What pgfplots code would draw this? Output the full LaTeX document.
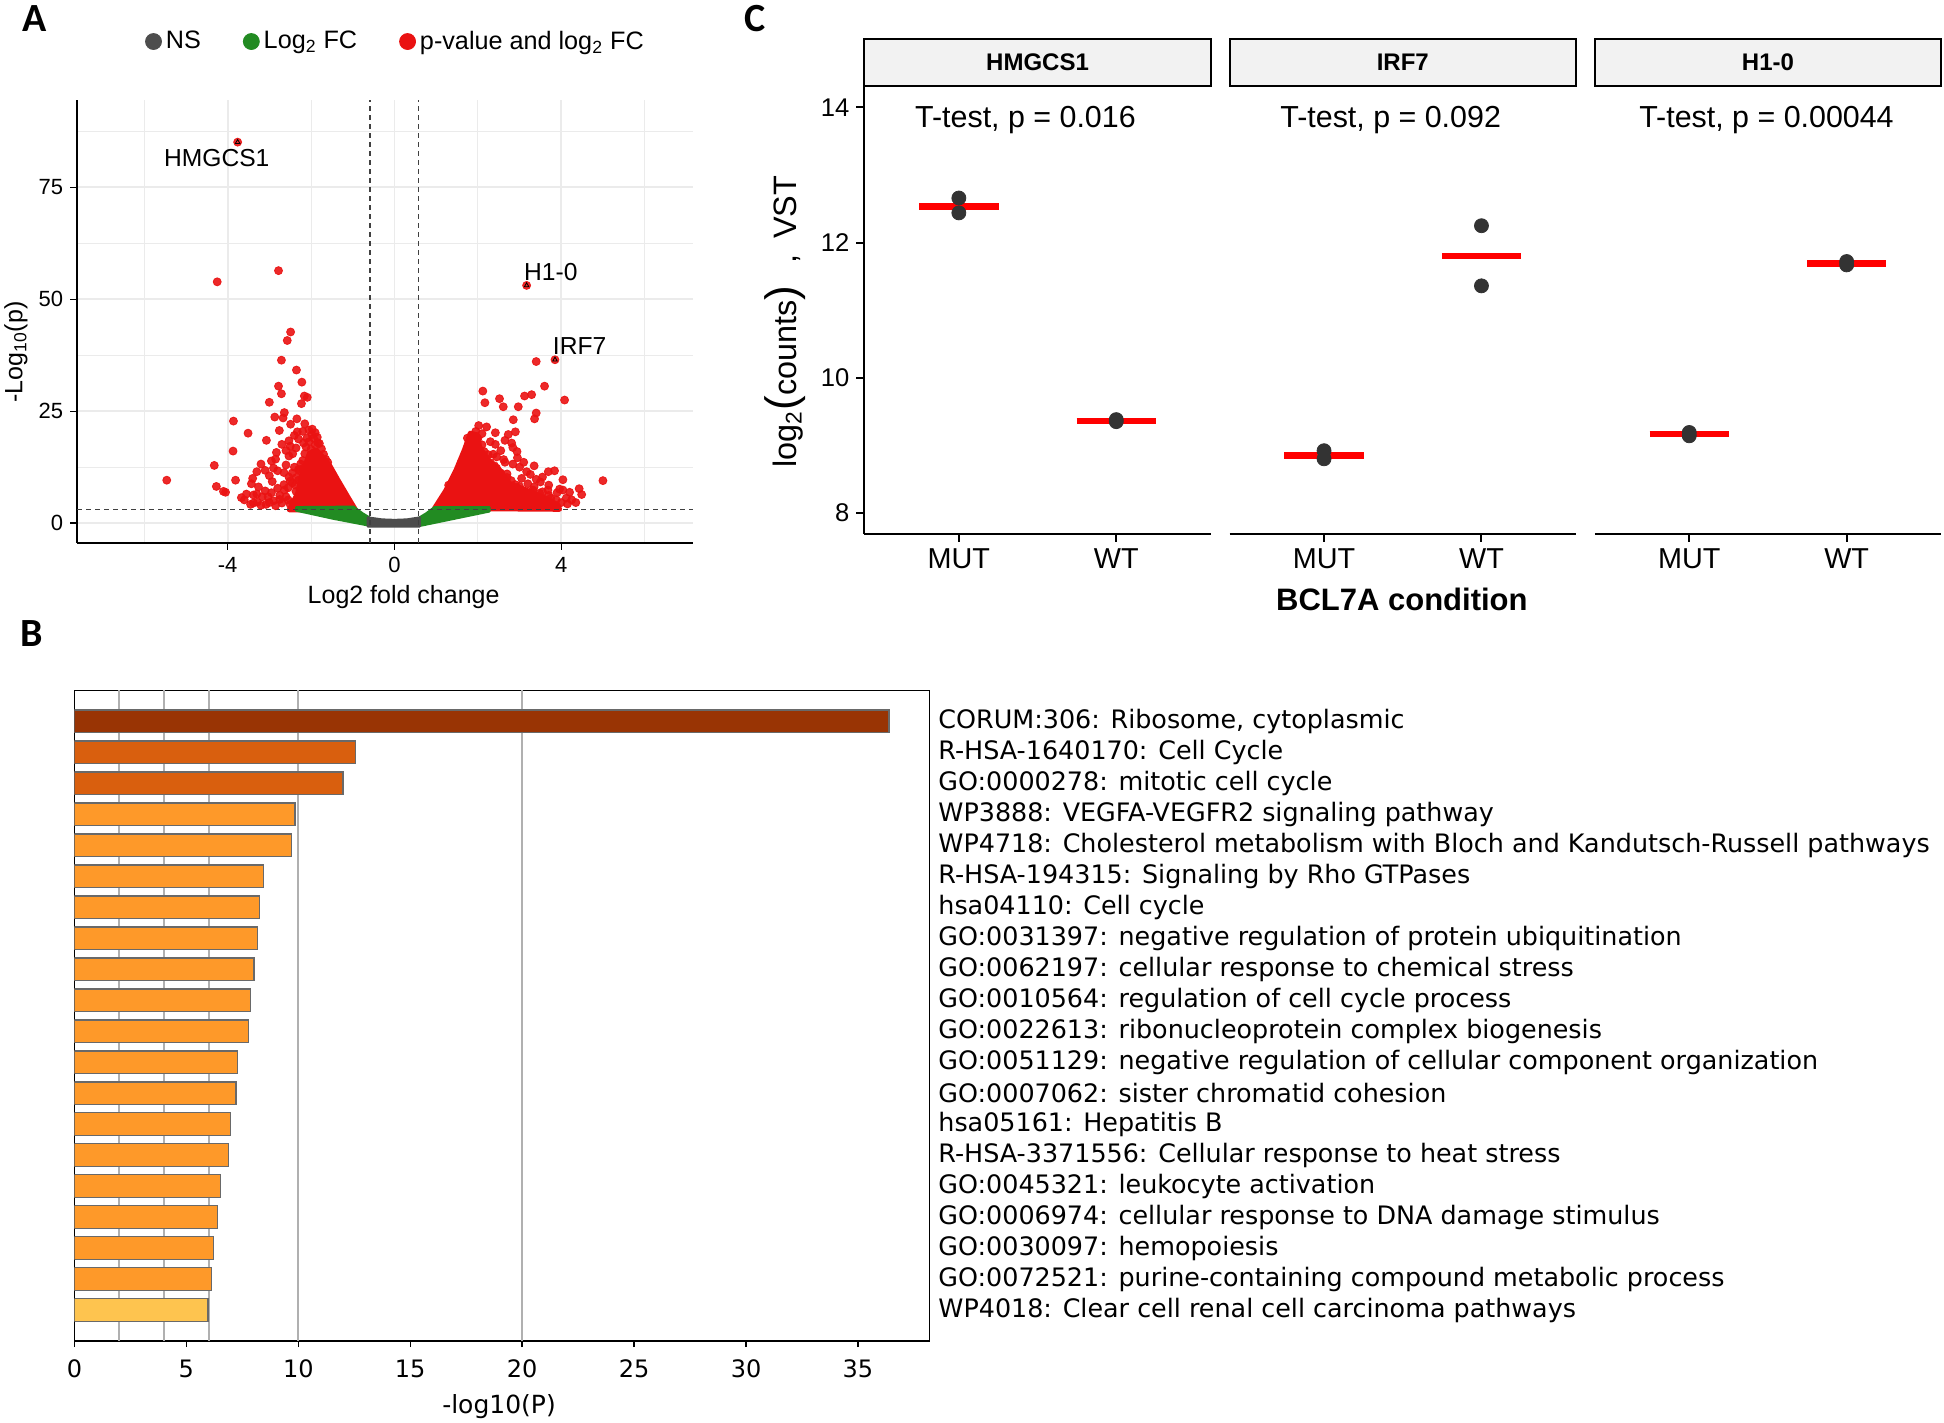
\documentclass[border=0pt]{standalone}
\usepackage{fontspec}
\setmainfont{Liberation Sans}
\newfontfamily\dejavu{DejaVu Sans}
\newfontfamily\carlito{Carlito}
\usepackage{pgfplots}
\pgfplotsset{compat=1.18}
\newcommand{\fs}[1]{\fontsize{#1}{#1}\selectfont}
\definecolor{nsgrey}{RGB}{77,77,77}
\definecolor{fcgreen}{RGB}{34,139,34}
\definecolor{sigred}{RGB}{234,18,18}
\definecolor{gridgrey}{RGB}{235,235,235}
\definecolor{dotgrey}{RGB}{51,51,51}
\definecolor{stripgrey}{RGB}{242,242,242}
\definecolor{bA}{RGB}{153,52,4}
\definecolor{bB}{RGB}{217,95,14}
\definecolor{bC}{RGB}{254,153,41}
\definecolor{bD}{RGB}{254,196,79}
\definecolor{bargrid}{RGB}{176,176,176}
\definecolor{baredge}{RGB}{105,105,105}
\pgfplotsset{
  cpanel/.style={scale only axis, width=173.15pt, height=223.8pt, anchor=north west,
    xmin=0.4, xmax=2.6, ymin=7.69, ymax=14.315,
    axis x line*=bottom, axis line style={line width=1pt,-},
    xtick={1,2}, xticklabels={MUT,WT}, xticklabel style={font=\fs{14.4}},
    tick align=outside, major tick length=4pt, tick style={black,line width=1pt},
    /pgf/number format/assume math mode=true, clip=false},
  dots/.style={only marks, mark=*, mark size=3.5pt, color=dotgrey},
  mbar/.style={red, line width=3.35pt},
}
\begin{document}
\begin{tikzpicture}
\path[use as bounding box] (0pt,0pt) rectangle (972pt,-711.5pt);
% ---------------- Panel A ----------------
\begin{axis}[
  at={(38.55pt,-49.8pt)}, anchor=north west, scale only axis,
  width=308.15pt, height=221.65pt,
  xmin=-7.61, xmax=7.17, ymin=-4.4, ymax=94.6,
  axis x line*=bottom, axis y line*=left,
  axis line style={line width=0.8pt,-},
  xtick={-4,0,4}, ytick={0,25,50,75},
  minor xtick={-6,-2,2,6}, minor ytick={12.5,37.5,62.5,87.5},
  grid=both,
  major grid style={draw=gridgrey, line width=0.9pt},
  minor grid style={draw=gridgrey, line width=0.5pt},
  minor tick length=0pt, major tick length=3.5pt, tick align=outside,
  tick style={black, line width=0.7pt},
  ticklabel style={font=\fs{11}},
  /pgf/number format/assume math mode=true,
  xlabel={Log2 fold change}, ylabel={-Log\textsubscript{10}(p)},
  label style={font=\fs{12.5}},
  xlabel style={at={(axis description cs:0.5298,-0.122)}, anchor=center},
  ylabel style={at={(axis description cs:-0.0991,0.4306)}, anchor=center},
  legend style={at={(axis description cs:0.100,1.131)}, anchor=west, draw=none, fill=none,
     font=\fs{12.6}, legend columns=-1, /tikz/every even column/.append style={column sep=19pt}},
  legend cell align=left,
]
\addlegendimage{legend image code/.code={\fill[nsgrey] (0pt,0pt) circle (4pt);}}
\addlegendentry{NS}
\addlegendimage{legend image code/.code={\fill[fcgreen] (0pt,0pt) circle (4pt);}}
\addlegendentry{Log\textsubscript{2} FC}
\addlegendimage{legend image code/.code={\fill[sigred] (0pt,0pt) circle (4pt);}}
\addlegendentry{p-value and log\textsubscript{2} FC}
% dense red clouds
\addplot[fill=sigred, draw=sigred, line width=2.5pt, line join=round, forget plot] coordinates {
(-2.52,2.97) (-2.32,6.7) (-2.24,10.4) (-2.12,13.4) (-2.04,15.6) (-1.88,16.4) (-1.76,15.2)
(-1.56,13.0) (-1.36,9.7) (-1.12,5.9) (-0.94,3.1)} -- cycle;
\addplot[fill=sigred, draw=sigred, line width=2.5pt, line join=round, forget plot] coordinates {
(0.96,3.3) (1.24,7.4) (1.48,11.9) (1.68,16.4) (1.82,20.1) (2.0,19.7) (2.04,17.1) (2.24,14.1)
(2.52,11.9) (2.76,8.9) (3.16,7.4) (3.56,5.9) (3.92,4.1) (3.96,3.1)} -- cycle;
% green bands
\addplot[fill=fcgreen, draw=fcgreen, line width=1pt, line join=round, forget plot] coordinates {
(-2.36,3.6) (-0.98,3.7) (-0.76,2.2) (-0.6,1.3) (-0.64,-0.5) (-1.48,1.0) (-2.36,2.8)} -- cycle;
\addplot[fill=fcgreen, draw=fcgreen, line width=1pt, line join=round, forget plot] coordinates {
(0.6,1.3) (0.76,2.2) (0.96,3.6) (2.28,3.6) (2.28,2.6) (0.62,-0.6)} -- cycle;
% grey NS band
\addplot[fill=nsgrey, draw=nsgrey, line width=1pt, line join=round, forget plot] coordinates {
(-0.64,-0.76) (0.61,-0.76) (0.61,1.3) (0.3,0.85) (0,0.74) (-0.3,0.85) (-0.64,1.3)} -- cycle;
% red points
\addplot[only marks, mark=*, mark size=2pt, color=sigred, mark options={fill opacity=0.9, draw opacity=0.9}, forget plot] coordinates {
(-3.76,85.1) (-4.25,53.9) (-2.78,56.4) (-5.46,9.6) (-2.49,42.7) (-2.57,40.8) (-2.71,36.4) (-2.35,34.2)
(-2.22,31.5) (-2.78,30.6) (-2.71,28.9) (-2.16,28.4) (-2.09,28.1) (-2.23,26.7) (-3.0,27.0) (-2.64,24.7)
(-2.87,23.7) (-2.67,23.5) (-2.34,23.3) (-3.86,22.8) (-3.51,20.1) (-2.49,22.1) (-2.15,22.2) (-2.76,20.7)
(-2.33,20.4) (-1.97,21.0) (-3.07,18.5) (-2.53,18.4) (-2.18,17.9) (-1.94,19.0) (-1.84,18.0) (-3.87,16.1)
(-2.83,15.8) (-2.95,13.9) (-2.85,14.3) (-2.53,15.0) (-2.44,15.5) (-2.36,16.8) (-4.32,12.9) (-3.30,11.5)
(-2.80,11.7) (-3.81,9.6) (-3.40,10.0) (-3.43,8.8) (-2.93,9.3) (-3.26,8.1) (-2.53,10.3) (-4.27,8.2)
(-4.10,7.1) (-4.05,6.9) (-3.67,5.7) (-3.38,6.3) (-3.17,5.9) (-3.03,5.9) (-3.38,4.5) (-3.29,4.7)
(-3.08,4.2) (-2.85,3.9) (-2.64,7.4) (-2.36,7.1) (-2.60,5.9) (-2.24,6.7) (-2.3,12) (-2.2,14) (-2.1,19)
(-2.0,16.5) (-1.9,17.5) (-2.45,9) (-2.7,4.5) (-2.9,5) (-2.5,4.2) (-3.2,4.0) (-2.4,12.5) (-2.6,13) (-2.0,14.5)
(-3.3,6.5) (-3.1,7.2) (-2.95,6.8) (-2.8,7.8) (-2.75,6.2) (-2.65,8.6) (-2.55,7.9) (-2.5,9.4) (-2.45,11.2)
(-2.38,8.5) (-2.35,10.2) (-2.3,9.6) (-2.28,11.8) (-2.25,13.2) (-2.2,12.2) (-2.15,15.5) (-2.12,17)
(-2.05,18.2) (-1.98,19.8) (-1.9,20.2) (-1.85,19.2) (-1.8,17.8) (-1.75,16.6) (-1.7,15.4) (-1.65,14.3)
(-1.6,13.6) (-2.6,16.2) (-2.5,17.2) (-2.3,18.8) (-2.7,17.6) (-2.9,12.3) (-3.0,10.6) (-3.1,11.8)
(-2.65,11.3) (-3.55,6.5) (-3.6,5.2) (-3.45,4.2) (-3.0,4.6) (-2.75,5.3) (-2.55,5.2) (-2.42,4.6)
(-2.3,5.5) (-2.2,8.4) (-2.12,9.8) (-2.05,11.2) (-1.95,12.4) (-3.2,13.2) (-2.4,19.6) (-2.2,20.5) (-2.05,20.8)
(3.17,53.1) (3.85,36.5) (3.40,36.1) (3.60,30.6) (2.12,29.5) (3.12,28.4) (3.29,28.7) (2.17,26.9)
(2.52,27.8) (2.61,26.0) (2.97,26.0) (4.08,27.5) (3.40,24.6) (3.36,23.3) (2.85,23.1) (2.02,21.8)
(2.21,21.5) (2.42,20.2) (2.73,19.8) (2.90,20.4) (2.81,17.9) (2.84,16.9) (2.94,16.0) (2.42,17.6)
(2.37,15.4) (2.65,13.6) (2.84,13.2) (3.0,12.5) (3.17,11.5) (3.26,10.9) (3.69,11.5) (3.84,11.7)
(4.04,9.7) (5.0,9.5) (4.43,7.7) (4.49,6.4) (4.12,5.6) (4.04,7.4) (3.96,7.6) (3.48,6.7) (3.68,7.4)
(3.32,7.4) (3.88,5.2) (2.3,12) (2.5,10) (2.6,8) (2.8,9.5) (2.9,7) (3.1,6) (3.3,5.5) (3.6,5) (3.7,6.2)
(3.0,8.2) (2.7,11) (2.2,14.5) (2.4,12.8) (3.2,8.8) (3.5,9.2) (3.9,6.8) (4.2,6.9) (3.4,4.4)
(1.3,8.5) (1.45,10) (1.6,13.5) (1.72,15.5) (1.8,17.5) (1.9,18.5) (2.0,18.9) (2.1,17.5) (2.15,16)
(2.25,15.3) (2.3,13.5) (2.45,12.3) (2.55,11.2) (2.6,9.4) (2.7,10.2) (2.75,7.8) (2.9,8.6) (2.95,6.4)
(3.05,7.3) (3.15,5.2) (3.25,6.7) (3.35,8.1) (3.45,5.8) (3.55,7.0) (3.62,4.5) (3.75,5.6) (3.8,4.2)
(4.0,4.6) (4.15,4.3) (4.25,5.2) (4.35,4.6) (3.0,4.4) (2.85,5.2) (2.6,6.5) (2.4,7.2) (2.35,9.3)
(2.2,10.8) (2.45,14.8) (2.55,16.2) (2.62,14.2) (2.95,14.6) (3.05,10) (3.35,12.8) (3.4,9.8) (3.55,10.3)
(1.95,20.5) (2.1,20) (2.3,18.2) (2.65,18.5) (1.75,19) (3.7,8.5) (3.1,13.6)};
% labelled genes
\addplot[only marks, mark=triangle, mark size=1.3pt, mark options={black, line width=0.4pt}, forget plot] coordinates {(-3.76,85.1) (3.17,53.1) (3.85,36.5)};
% thresholds
\addplot[dash pattern=on 2.5pt off 2pt, line width=0.6pt, black!75, forget plot] coordinates {(-0.585,-4.4) (-0.585,94.6)};
\addplot[dash pattern=on 2.5pt off 2pt, line width=0.6pt, black!75, forget plot] coordinates {(0.585,-4.4) (0.585,94.6)};
\addplot[dash pattern=on 2.5pt off 2pt, line width=0.6pt, black!75, forget plot] coordinates {(-7.61,3) (7.17,3)};
\node[font=\fs{12.3}] at (axis cs:-4.26,81.5) {HMGCS1};
\node[font=\fs{12.3}] at (axis cs:3.75,56.1) {H1-0};
\node[font=\fs{12.3}] at (axis cs:4.44,39.6) {IRF7};
\end{axis}
% ---------------- Panel C ----------------
\begin{axis}[cpanel, at={(432.2pt,-43.1pt)},
  axis y line*=left, ytick={8,10,12,14}, yticklabel style={font=\fs{12.8}},
  ylabel={log\textsubscript{2}{\fs{22}(}counts{\fs{22})}\hspace{11pt},\hspace{8pt}VST},
  ylabel style={at={(axis description cs:-0.2293,0.4743)}, anchor=center, font=\fs{16.2}}]
\draw[line width=1pt, fill=stripgrey] (rel axis cs:0,1) rectangle ([yshift=23.75pt]rel axis cs:1,1);
\node[font=\bfseries\fs{12}] at ([yshift=11.875pt]rel axis cs:0.5,1) {HMGCS1};
\addplot[dots] coordinates {(1,12.66) (1,12.44) (2,9.38) (2,9.35)};
\addplot[mbar] coordinates {(0.748,12.536) (1.252,12.536)};
\addplot[mbar] coordinates {(1.748,9.36) (2.252,9.36)};
\node[anchor=west, inner sep=0pt, font=\fs{15.2}] at (axis cs:0.72,13.82) {T-test, p = 0.016};
\end{axis}
\begin{axis}[cpanel, at={(614.8pt,-43.1pt)}, axis y line=none, ytick=\empty,
  xlabel={BCL7A condition},
  xlabel style={at={(axis description cs:0.4975,-0.1457)}, anchor=center, font=\bfseries\fs{15.5}}]
\draw[line width=1pt, fill=stripgrey] (rel axis cs:0,1) rectangle ([yshift=23.75pt]rel axis cs:1,1);
\node[font=\bfseries\fs{12}] at ([yshift=11.875pt]rel axis cs:0.5,1) {IRF7};
\addplot[dots] coordinates {(1,8.92) (1,8.80) (2,12.25) (2,11.36)};
\addplot[mbar] coordinates {(0.748,8.85) (1.252,8.85)};
\addplot[mbar] coordinates {(1.748,11.80) (2.252,11.80)};
\node[anchor=west, inner sep=0pt, font=\fs{15.2}] at (axis cs:0.72,13.82) {T-test, p = 0.092};
\end{axis}
\begin{axis}[cpanel, at={(797.4pt,-43.1pt)}, axis y line=none, ytick=\empty]
\draw[line width=1pt, fill=stripgrey] (rel axis cs:0,1) rectangle ([yshift=23.75pt]rel axis cs:1,1);
\node[font=\bfseries\fs{12}] at ([yshift=11.875pt]rel axis cs:0.5,1) {H1-0};
\addplot[dots] coordinates {(1,9.19) (1,9.14) (2,11.72) (2,11.67)};
\addplot[mbar] coordinates {(0.748,9.165) (1.252,9.165)};
\addplot[mbar] coordinates {(1.748,11.69) (2.252,11.69)};
\node[anchor=west, inner sep=0pt, font=\fs{15.2}] at (axis cs:0.68,13.82) {T-test, p = 0.00044};
\end{axis}
% ---------------- Panel B ----------------
\begin{axis}[at={(37.2pt,-345.2pt)}, anchor=north west, scale only axis,
  width=427.6pt, height=325.3pt,
  xmin=0, xmax=38.2, ymin=0, ymax=21, y dir=reverse,
  xbar, bar width=0.73,
  axis line style={line width=0.8pt},
  xtick={0,5,...,35}, xtick pos=bottom, tick align=outside, major tick length=3pt,
  xtick style={black, line width=0.7pt},
  extra x ticks={2,4,6,10,20}, extra x tick labels={},
  extra x tick style={grid=major, major grid style={draw=bargrid, line width=1.1pt}, major tick length=0pt},
  xticklabel style={font=\dejavu\fs{12}, yshift=-3pt},
  /pgf/number format/assume math mode=true,
  ytick={1,...,20}, yticklabel pos=right, ytick style={draw=none},
  yticklabel style={font=\dejavu\fs{12.7}, anchor=west, inner sep=0pt, xshift=1.2pt},
  yticklabels={{CORUM:306: Ribosome, cytoplasmic},{R-HSA-1640170: Cell Cycle},{GO:0000278: mitotic cell cycle},
   {WP3888: VEGFA-VEGFR2 signaling pathway},{WP4718: Cholesterol metabolism with Bloch and Kandutsch-Russell pathways},
   {R-HSA-194315: Signaling by Rho GTPases},{hsa04110: Cell cycle},{GO:0031397: negative regulation of protein ubiquitination},
   {GO:0062197: cellular response to chemical stress},{GO:0010564: regulation of cell cycle process},
   {GO:0022613: ribonucleoprotein complex biogenesis},{GO:0051129: negative regulation of cellular component organization},
   {GO:0007062: sister chromatid cohesion},{hsa05161: Hepatitis B},{R-HSA-3371556: Cellular response to heat stress},
   {GO:0045321: leukocyte activation},{GO:0006974: cellular response to DNA damage stimulus},{GO:0030097: hemopoiesis},
   {GO:0072521: purine-containing compound metabolic process},{WP4018: Clear cell renal cell carcinoma pathways}},
  xlabel={-log10(P)},
  xlabel style={at={(axis description cs:0.4965,-0.1004)}, anchor=center, font=\dejavu\fs{12.5}},
]
\addplot[fill=bA, draw=baredge, line width=0.65pt, bar shift=0pt] coordinates {(36.38,1)};
\addplot[fill=bB, draw=baredge, line width=0.65pt, bar shift=0pt] coordinates {(12.56,2) (12.0,3)};
\addplot[fill=bC, draw=baredge, line width=0.65pt, bar shift=0pt] coordinates {
(9.85,4) (9.69,5) (8.44,6) (8.26,7) (8.17,8) (8.02,9) (7.87,10) (7.77,11) (7.28,12) (7.22,13)
(6.97,14) (6.88,15) (6.53,16) (6.38,17) (6.21,18) (6.13,19)};
\addplot[fill=bD, draw=baredge, line width=0.65pt, bar shift=0pt] coordinates {(5.97,20)};
\end{axis}
% panel letters
\node[font=\carlito\bfseries\fs{20}] at (17.5pt,-9.5pt) {A};
\node[font=\carlito\bfseries\fs{20}] at (16.1pt,-316.7pt) {B};
\node[font=\carlito\bfseries\fs{20}] at (377.75pt,-9.5pt) {C};
\end{tikzpicture}
\end{document}
